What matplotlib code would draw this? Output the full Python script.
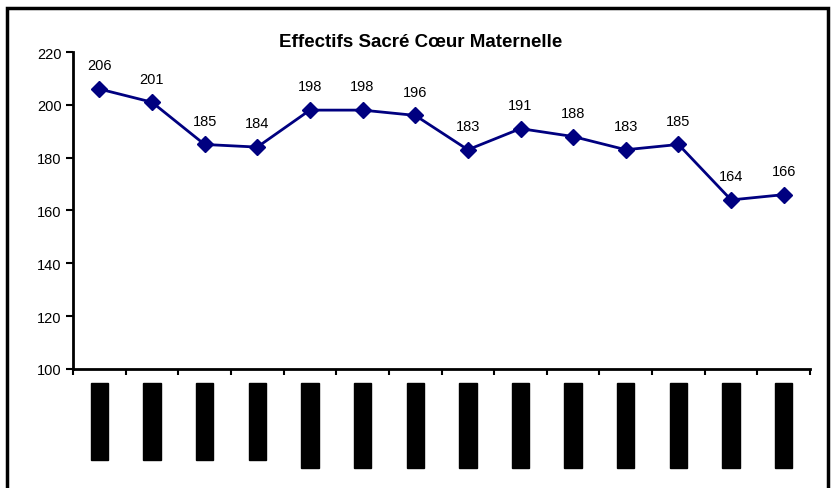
import matplotlib
matplotlib.use('Agg')
import matplotlib.pyplot as plt
from matplotlib.patches import Rectangle
import numpy as np

# school years (labels are rendered as black blocks in the original)
annees = ['1990-1991', '1991-1992', '1992-1993', '1993-1994', '1994 - 1995',
          '1995 - 1996', '1996 - 1997', '1997 - 1998', '1998 - 1999', '1999 - 2000',
          '2000 - 2001', '2001 - 2002', '2002 - 2003', '2003 - 2004']
effectifs = [206, 201, 185, 184, 198, 198, 196, 183, 191, 188, 183, 185, 164, 166]

navy = '#000080'
plt.rcParams['font.family'] = ['Liberation Sans', 'DejaVu Sans']

fig = plt.figure(figsize=(8.36, 4.89), dpi=100)
ax = fig.add_axes([0.0873, 0.2434, 0.8817, 0.6482])

x = np.arange(len(effectifs))
ax.plot(x, effectifs, color=navy, lw=2, marker='D', ms=8.5, mfc=navy, mec=navy)
for xi, v in zip(x, effectifs):
    ax.annotate(str(v), (xi, v), xytext=(0, 12), textcoords='offset points',
                ha='center', va='bottom', fontsize=10.5)

ax.set_xlim(-0.5, len(effectifs) - 0.5)
ax.set_ylim(100, 220)
ax.set_yticks(np.arange(100, 221, 20))
ax.tick_params(axis='y', direction='out', length=5, width=1.5, labelsize=10.5, pad=3)

ax.set_xticks(x)
ax.set_xticklabels(annees, rotation=90, va='top', ha='center', fontsize=11)
ax.set_xticks(np.arange(-0.5, len(effectifs), 1), minor=True)
ax.tick_params(axis='x', which='major', length=0, pad=11.5)
ax.tick_params(axis='x', which='minor', direction='out', length=4, width=1.5)
for lab in ax.get_xticklabels():
    lab.set_bbox(dict(facecolor='black', edgecolor='black', pad=1.2))

for s in ['top', 'right']:
    ax.spines[s].set_visible(False)
ax.spines['left'].set_linewidth(2)
ax.spines['bottom'].set_linewidth(2)

fig.text(0.503, 0.913, 'Effectifs Sacré Cœur Maternelle', ha='center', va='center',
         fontsize=13.5, fontweight='bold')

fig.patches.append(Rectangle((0.0084, -0.05), 0.982, 1.0316, transform=fig.transFigure,
                             fill=False, edgecolor='black', lw=2.5))

fig.savefig('out.png', dpi=100)
